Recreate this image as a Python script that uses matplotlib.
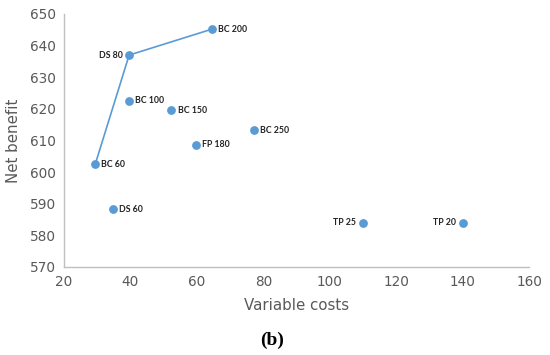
import matplotlib
matplotlib.use("Agg")
from matplotlib import pyplot as plt

# Data
labels = ["BC 60", "DS 80", "BC 200", "BC 100", "BC 150", "FP 180", "BC 250", "DS 60", "TP 25", "TP 20"]
var_costs = [29.4, 39.6, 64.5, 39.6, 52.3, 59.7, 77.1, 34.8, 109.9, 140.0]
net_benefit = [602.5, 637.0, 645.2, 622.6, 619.5, 608.7, 613.3, 588.2, 584.0, 584.0]
frontier = ["BC 60", "DS 80", "BC 200"]
left_labels = ["DS 80", "TP 25", "TP 20"]

blue = "#5B9BD5"
gray = "#595959"

fig = plt.figure(figsize=(5.5, 3.55), dpi=100)
ax = fig.add_axes([0.1164, 0.248, 0.8456, 0.7126])

# Efficiency frontier line
fx = [var_costs[labels.index(l)] for l in frontier]
fy = [net_benefit[labels.index(l)] for l in frontier]
ax.plot(fx, fy, color=blue, linewidth=1.2, zorder=2)

ax.scatter(var_costs, net_benefit, s=40, color=blue, zorder=3, linewidths=0)

for lab, x, y in zip(labels, var_costs, net_benefit):
    if lab in left_labels:
        ax.annotate(lab, (x, y), xytext=(-4.5, 0), textcoords="offset points",
                    ha="right", va="center", fontsize=6.3, color="#222222",
                    family="Lato", fontweight="bold")
    else:
        ax.annotate(lab, (x, y), xytext=(4.5, 0), textcoords="offset points",
                    ha="left", va="center", fontsize=6.3, color="#222222",
                    family="Lato", fontweight="bold")

ax.set_xlim(20, 160)
ax.set_ylim(570, 650)
ax.set_xticks(range(20, 161, 20))
ax.set_yticks(range(570, 651, 10))
ax.tick_params(length=0, labelsize=9.8, colors=gray, pad=6)

for s in ["top", "right"]:
    ax.spines[s].set_visible(False)
for s in ["left", "bottom"]:
    ax.spines[s].set_color("#BFBFBF")
    ax.spines[s].set_linewidth(1)

ax.set_xlabel("Variable costs", fontsize=10.8, color=gray, labelpad=6)
ax.set_ylabel("Net benefit", fontsize=10.8, color=gray, labelpad=6)

fig.text(0.495, 0.042, "(b)", ha="center", va="center", fontsize=14,
         fontweight="bold", family="Liberation Serif")

fig.savefig("out.png", dpi=100)
